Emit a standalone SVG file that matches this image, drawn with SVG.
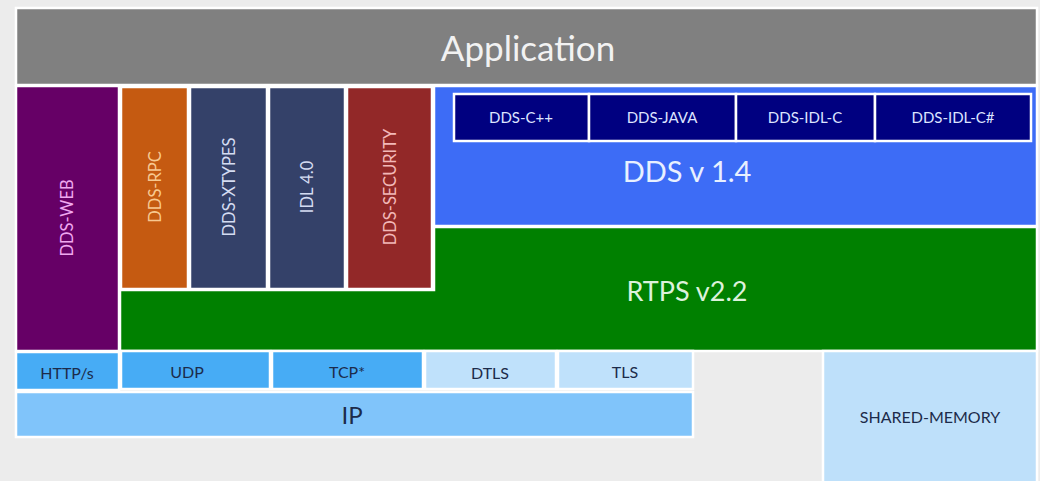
<svg xmlns="http://www.w3.org/2000/svg" width="1040" height="481" viewBox="0 0 1040 481">
<style>
text{font-family:Lato,"Open Sans","Liberation Sans",sans-serif;text-anchor:middle;dominant-baseline:central}
.b{stroke:#fff;stroke-width:2.5}
.v{font-size:16.5px}
.lang{font-size:15px;fill:#dde4ff}
.bot{font-size:16px;fill:#1c2b4a}
</style>
<rect width="1040" height="481" fill="#ececec"/>
<g id="application"><rect class="b" x="16" y="8" width="1021" height="77" fill="#808080"/><text x="528" y="47" font-size="35" fill="#f2f2f2">Application</text></g>
<g id="dds-web"><rect class="b" x="16" y="86" width="103" height="265" fill="#660066"/><text class="v" transform="translate(67,218) rotate(-90)" fill="#f0a8f0">DDS-WEB</text></g>
<g id="rtps"><polygon class="b" points="120,290 434,290 434,227 1037,227 1037,351 120,351" fill="#008000"/><text x="687" y="290" font-size="27" fill="#dcf2dc">RTPS v2.2</text></g>
<g id="dds-rpc"><rect class="b" x="121" y="87" width="67" height="202" fill="#c55a11"/><text class="v" transform="translate(155,187) rotate(-90)" fill="#f8c890">DDS-RPC</text></g>
<g id="dds-xtypes"><rect class="b" x="190" y="87" width="77" height="202" fill="#344169"/><text class="v" transform="translate(229,187) rotate(-90)" fill="#d4dcf2">DDS-XTYPES</text></g>
<g id="idl"><rect class="b" x="269" y="87" width="76" height="202" fill="#344169"/><text class="v" transform="translate(307,187) rotate(-90)" fill="#d4dcf2">IDL 4.0</text></g>
<g id="dds-security"><rect class="b" x="347" y="87" width="85" height="202" fill="#922828"/><text class="v" transform="translate(390,187) rotate(-90)" fill="#f2b8b8">DDS-SECURITY</text></g>
<g id="dds"><rect class="b" x="434" y="86" width="603" height="140" fill="#3d6cf6"/><text x="687" y="170" font-size="29" fill="#e8f0ff">DDS v 1.4</text></g>
<g id="dds-cpp"><rect class="b" x="454" y="94" width="135" height="47" fill="#000080"/><text class="lang" x="521" y="117">DDS-C++</text></g>
<g id="dds-java"><rect class="b" x="589" y="94" width="147" height="47" fill="#000080"/><text class="lang" x="662" y="117">DDS-JAVA</text></g>
<g id="dds-idl-c"><rect class="b" x="736" y="94" width="139" height="47" fill="#000080"/><text class="lang" x="805" y="117">DDS-IDL-C</text></g>
<g id="dds-idl-cs"><rect class="b" x="875" y="94" width="156" height="47" fill="#000080"/><text class="lang" x="953" y="117">DDS-IDL-C#</text></g>
<g id="https"><rect class="b" x="16" y="352" width="103" height="38" fill="#47acf5"/><text class="bot" x="67" y="372">HTTP/s</text></g>
<g id="udp"><rect class="b" x="121" y="351" width="149" height="38" fill="#47acf5"/><text class="bot" x="187" y="371">UDP</text></g>
<g id="tcp"><rect class="b" x="272" y="351" width="151" height="38" fill="#47acf5"/><text class="bot" x="347" y="371">TCP*</text></g>
<g id="dtls"><rect class="b" x="425" y="351" width="131" height="38" fill="#bfe1fb"/><text class="bot" x="490" y="372">DTLS</text></g>
<g id="tls"><rect class="b" x="558" y="351" width="135" height="38" fill="#bfe1fb"/><text class="bot" x="625" y="371">TLS</text></g>
<g id="ip"><rect class="b" x="16" y="392" width="677" height="45" fill="#80c4fa"/><text x="352" y="414" font-size="24" fill="#1c2b4a">IP</text></g>
<g id="shared-memory"><rect class="b" x="823" y="351" width="214" height="135" fill="#bee0fa"/><text class="bot" x="930" y="416">SHARED-MEMORY</text></g>
<g id="connectors"/>
</svg>
